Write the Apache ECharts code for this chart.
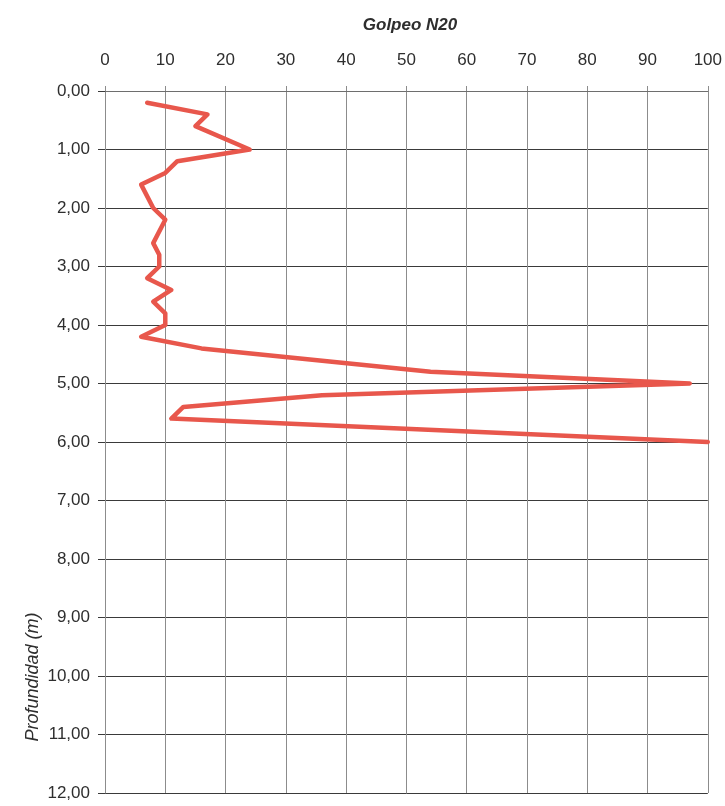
<!DOCTYPE html>
<html>
<head>
<meta charset="utf-8">
<title>Golpeo N20</title>
<script src="https://cdn.jsdelivr.net/npm/echarts@6/dist/echarts.min.js"></script>
<style>
  html, body { margin: 0; padding: 0; background: #ffffff; }
  #chart { width: 725px; height: 806px; }
</style>
</head>
<body>
<div id="chart"></div>
<script>
// Penetration test: blow count (N20) against depth (m)
const depths = [0.2, 0.4, 0.6, 1.0, 1.2, 1.4, 1.6, 2.0, 2.2, 2.6, 2.8, 3.0, 3.2, 3.4, 3.6, 3.8, 4.0, 4.2, 4.4, 4.8, 5.0, 5.2, 5.4, 5.6, 6.0];
const blows  = [7, 17, 15, 24, 12, 10, 6, 8, 10, 8, 9, 9, 7, 11, 8, 10, 10, 6, 16, 54, 97, 36, 13, 11, 100];

const xTicks = [0, 10, 20, 30, 40, 50, 60, 70, 80, 90, 100];
const depthTicks = [0, 1, 2, 3, 4, 5, 6, 7, 8, 9, 10, 11, 12];

const titleText = 'Golpeo N20';
const yName = 'Profundidad (m)';

const sans = '"Liberation Sans", Arial, sans-serif';

const points = depths.map((d, i) => [blows[i], d]);

const chart = echarts.init(document.getElementById('chart'), null, { renderer: 'canvas' });

chart.setOption({
  backgroundColor: '#ffffff',
  animation: false,
  title: {
    text: titleText,
    left: 405,
    top: 12,
    textAlign: 'center',
    textStyle: {
      fontFamily: sans,
      fontSize: 17,
      fontWeight: 'bold',
      fontStyle: 'italic',
      color: '#2e2e2e'
    }
  },
  graphic: [{
    type: 'text',
    x: 33,
    y: 677,
    rotation: Math.PI / 2,
    style: {
      text: yName,
      font: 'italic 18px ' + sans,
      fill: '#2e2e2e',
      align: 'center',
      verticalAlign: 'middle'
    }
  }],
  grid: { left: 105, right: 17, top: 91, bottom: 13, containLabel: false },
  xAxis: {
    type: 'value',
    position: 'top',
    min: xTicks[0],
    max: xTicks[xTicks.length - 1],
    interval: xTicks[1] - xTicks[0],
    axisLine: { show: true, lineStyle: { color: '#6e6e6e', width: 1 } },
    axisTick: { show: true, inside: false, length: 5, lineStyle: { color: '#8c8c8c' } },
    axisLabel: {
      margin: 22,
      fontFamily: sans,
      fontSize: 17,
      color: '#2e2e2e'
    },
    splitLine: { show: true, lineStyle: { color: '#8c8c8c', width: 1 } }
  },
  yAxis: {
    type: 'value',
    inverse: true,
    min: depthTicks[0],
    max: depthTicks[depthTicks.length - 1],
    interval: depthTicks[1] - depthTicks[0],
    axisLine: { show: true, lineStyle: { color: '#8c8c8c', width: 1 } },
    axisTick: { show: true, inside: false, length: 7, lineStyle: { color: '#3a3a3a' } },
    axisLabel: {
      margin: 15,
      fontFamily: sans,
      fontSize: 17,
      color: '#2e2e2e',
      formatter: v => v.toFixed(2).replace('.', ',')
    },
    splitLine: { show: true, lineStyle: { color: '#3a3a3a', width: 1 } }
  },
  series: [{
    type: 'line',
    data: points,
    showSymbol: false,
    symbol: 'none',
    lineStyle: { color: '#e8574c', width: 4.5, join: 'round', cap: 'round' },
    z: 5
  }]
});
</script>
</body>
</html>
